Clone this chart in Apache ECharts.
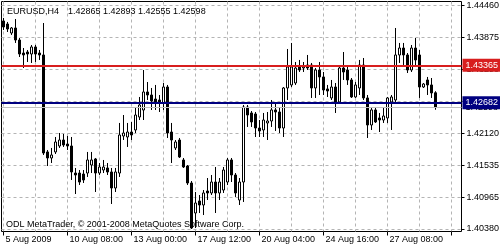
<!DOCTYPE html>
<html><head><meta charset="utf-8">
<script src="https://cdn.jsdelivr.net/npm/echarts@6/dist/echarts.min.js"></script>
<style>html,body{margin:0;padding:0;background:#fff}#c{width:500px;height:250px}</style>
</head><body><div id="c"></div>
<script>
const symbolName = 'EURUSD,H4';
const copyright = 'ODL MetaTrader, \u00a9 2001-2008 MetaQuotes Software Corp.';

const openP = [
1.44174,1.44119,1.43955,1.44046,1.43827,1.43590,1.43608,1.43572,1.43700,1.43590,
1.43554,1.41785,1.41675,1.41785,1.41894,1.42003,1.41930,1.41894,1.41401,1.41401,
1.41383,1.41401,1.41547,1.41657,1.41401,1.41456,1.41493,1.41420,1.41128,1.41401,
1.42076,1.42058,1.42149,1.42186,1.42423,1.42550,1.42879,1.42824,1.42751,1.42733,
1.42678,1.42970,1.42149,1.41858,1.42003,1.41639,1.41529,1.41219,1.40672,1.40891,
1.40818,1.41073,1.41037,1.41237,1.41037,1.41091,1.41237,1.41639,1.41365,1.40909,
1.41237,1.42605,1.42496,1.42478,1.42222,1.42186,1.42314,1.42350,1.42551,1.42514,
1.42222,1.42952,1.43007,1.43043,1.43335,1.43317,1.43371,1.43371,1.42952,1.43280,
1.43153,1.42934,1.42770,1.42970,1.42697,1.43317,1.43280,1.43098,1.42788,1.42952,
1.43371,1.42770,1.42277,1.42551,1.42405,1.42368,1.42405,1.42697,1.42733,1.43554,
1.43681,1.43554,1.43280,1.43681,1.43554,1.42970,1.43098,1.43007,1.42865];
const highP = [
1.44229,1.44156,1.44064,1.44210,1.43864,1.43681,1.43645,1.43736,1.43736,1.43645,
1.44137,1.41821,1.41858,1.42058,1.42131,1.42113,1.42076,1.42058,1.41493,1.41456,
1.41456,1.41785,1.41785,1.41675,1.41584,1.41639,1.41584,1.41493,1.41493,1.42314,
1.42459,1.42314,1.42332,1.42587,1.42788,1.43280,1.43061,1.42952,1.43007,1.42824,
1.43043,1.43007,1.42314,1.42003,1.42040,1.41675,1.41547,1.41255,1.41055,1.41000,
1.41091,1.41310,1.41365,1.41511,1.41310,1.41511,1.41675,1.41675,1.41401,1.41310,
1.42642,1.42642,1.42532,1.42514,1.42368,1.42496,1.42514,1.42733,1.42678,1.42605,
1.42970,1.43663,1.43773,1.43426,1.43463,1.43426,1.43554,1.43408,1.43317,1.43426,
1.43244,1.43007,1.43098,1.43043,1.43335,1.43608,1.43335,1.43134,1.43061,1.43463,
1.43499,1.42824,1.42587,1.42587,1.42496,1.42587,1.42788,1.42824,1.44046,1.43773,
1.43773,1.43590,1.43736,1.43864,1.43645,1.43043,1.43153,1.43134,1.42893];
const lowP = [
1.44010,1.43973,1.43919,1.43773,1.43517,1.43317,1.43426,1.43408,1.43426,1.43463,
1.41730,1.41529,1.41584,1.41748,1.41858,1.41876,1.41821,1.41274,1.41018,1.41183,
1.41219,1.41329,1.41401,1.41055,1.41365,1.41401,1.41365,1.40836,1.41055,1.41329,
1.42003,1.41876,1.42003,1.42131,1.42368,1.42368,1.42733,1.42551,1.42551,1.42514,
1.42551,1.42040,1.41584,1.41821,1.41675,1.41493,1.41183,1.40380,1.40398,1.40672,
1.40635,1.40909,1.41000,1.40672,1.40909,1.41037,1.41183,1.41237,1.40964,1.40818,
1.40873,1.42241,1.42241,1.42058,1.42058,1.42058,1.42003,1.42241,1.42168,1.42131,
1.42058,1.42733,1.42970,1.43007,1.43244,1.43244,1.43280,1.42770,1.42770,1.42824,
1.42824,1.42788,1.42733,1.42496,1.42678,1.43098,1.43007,1.42770,1.42770,1.42824,
1.42733,1.42040,1.42186,1.42314,1.42149,1.42314,1.42314,1.42186,1.42697,1.43408,
1.43371,1.43225,1.43244,1.43371,1.42770,1.42952,1.42824,1.42770,1.42555];
const closeP = [
1.44064,1.44028,1.44046,1.43827,1.43572,1.43554,1.43572,1.43700,1.43572,1.43554,
1.41766,1.41675,1.41730,1.41967,1.42003,1.41912,1.41894,1.41420,1.41365,1.41237,
1.41274,1.41639,1.41639,1.41401,1.41511,1.41511,1.41420,1.41128,1.41420,1.42095,
1.42131,1.42149,1.42095,1.42459,1.42642,1.42879,1.42824,1.42715,1.42697,1.42697,
1.42970,1.42131,1.42003,1.41967,1.41693,1.41511,1.41219,1.40398,1.40854,1.40818,
1.41037,1.41037,1.41237,1.41037,1.41237,1.41456,1.41639,1.41365,1.41037,1.41237,
1.42605,1.42459,1.42332,1.42222,1.42168,1.42368,1.42350,1.42551,1.42514,1.42222,
1.42952,1.43335,1.43335,1.43317,1.43280,1.43335,1.43317,1.42952,1.43280,1.43153,
1.42915,1.42897,1.42970,1.42697,1.43317,1.43244,1.43098,1.42788,1.43007,1.43371,
1.42770,1.42277,1.42551,1.42332,1.42368,1.42441,1.42770,1.42788,1.43554,1.43681,
1.43554,1.43280,1.43681,1.43463,1.42970,1.43025,1.43007,1.42861,1.42598];

const emptyFutureBars = 6;
const yTickLabels = ['1.40380','1.40965','1.41535','1.42120','1.42705','1.43290','1.43875','1.44460'];
const xTickLabels = ['5 Aug 2009','10 Aug 08:00','13 Aug 00:00','17 Aug 12:00','20 Aug 04:00','24 Aug 16:00','27 Aug 08:00'];
const resistanceLevel = 1.43365;
const supportLevel = 1.42682;
const bidLevel = 1.42598;

const FONT_FAMILY = '"Liberation Sans", Arial, sans-serif';
const FS = 9;
const last = closeP.length - 1;
const categories = openP.map((_, i) => String(i));
for (let k = 0; k < emptyFutureBars; k++) categories.push('f' + k);
const candles = openP.map((o, i) => [o, closeP[i], lowP[i], highP[i]]);
const yMin = +yTickLabels[0], yMax = +yTickLabels[yTickLabels.length - 1];
const yStep = (yMax - yMin) / (yTickLabels.length - 1);
const headerValues = [openP, highP, lowP, closeP].map(a => a[last].toFixed(5)).join(' ');

function lvlLabel(bg, fg, txt) {
  return {show: true, position: 'end', distance: 1, formatter: txt, color: fg, backgroundColor: bg,
    padding: [2, 3, 2, 3], fontSize: FS, fontFamily: FONT_FAMILY};
}

const chart = echarts.init(document.getElementById('c'), null, {renderer: 'canvas'});
chart.setOption({
  animation: false,
  backgroundColor: '#fff',
  grid: [
    {left: 1.5, top: 5.3, width: 460, height: 223.7, containLabel: false, outerBoundsMode: 'none'},
    {left: 3.5, top: 1.5, width: 448, height: 230, containLabel: false, outerBoundsMode: 'none'},
    {left: 1.5, top: 1.5, width: 460, height: 230, show: true, borderColor: '#000', borderWidth: 1,
     backgroundColor: 'transparent', containLabel: false, outerBoundsMode: 'none'}
  ],
  xAxis: [
    {type: 'category', gridIndex: 0, data: categories, boundaryGap: true,
     axisLine: {show: false}, axisTick: {show: false}, axisLabel: {show: false}, splitLine: {show: false}},
    {type: 'value', gridIndex: 1, min: 0, max: 112, interval: 8, position: 'top',
     axisLine: {show: false}, axisTick: {show: false}, axisLabel: {show: false},
     splitLine: {show: true, lineStyle: {color: '#b4b4b4', type: [3, 3], width: 1}}},
    {type: 'value', gridIndex: 1, min: 0, max: 112, interval: 16, position: 'bottom',
     axisLine: {show: false}, axisTick: {show: true, length: 4, lineStyle: {color: '#000'}},
     splitLine: {show: false},
     axisLabel: {show: true, align: 'left', margin: 4, color: '#000', fontSize: FS, fontFamily: FONT_FAMILY,
       padding: [0, 0, 0, 2], formatter: v => xTickLabels[Math.round(v / 16)] || ''}}
  ],
  yAxis: [
    {type: 'value', gridIndex: 0, position: 'right', min: yMin, max: yMax, interval: yStep,
     axisLine: {show: false}, axisTick: {show: true, length: 3, lineStyle: {color: '#000'}},
     axisLabel: {show: true, margin: 5, color: '#000', fontSize: FS, fontFamily: FONT_FAMILY,
       formatter: v => yTickLabels[Math.round((v - yMin) / yStep)]},
     splitLine: {show: true, lineStyle: {color: '#b4b4b4', type: [3, 3], width: 1}}},
    {type: 'value', gridIndex: 1, show: false}
  ],
  graphic: [
    {type: 'text', x: 7, y: 12, z: 10, style: {text: symbolName, fill: '#000', font: FS + 'px ' + FONT_FAMILY, verticalAlign: 'middle', align: 'left'}},
    {type: 'text', x: 68, y: 12, z: 10, style: {text: headerValues, fill: '#000', font: FS + 'px ' + FONT_FAMILY, verticalAlign: 'middle', align: 'left'}},
    {type: 'text', x: 6, y: 225, z: 1, style: {text: copyright, fill: '#000', font: FS + 'px ' + FONT_FAMILY, verticalAlign: 'middle', align: 'left'}}
  ],
  series: [{
    type: 'candlestick', xAxisIndex: 0, yAxisIndex: 0, data: candles, barWidth: 2,
    itemStyle: {color: '#fff', color0: '#000', borderColor: '#000', borderColor0: '#000', borderWidth: 1},
    markLine: {
      symbol: ['none', 'none'], silent: true, animation: false, precision: 5,
      data: [
        {yAxis: bidLevel, lineStyle: {color: '#c0c0c0', width: 1, type: 'solid'}, label: lvlLabel('#fff', '#000', bidLevel.toFixed(5))},
        {yAxis: supportLevel, lineStyle: {color: '#000080', width: 2, type: 'solid'}, label: lvlLabel('#000080', '#fff', supportLevel.toFixed(5))},
        {yAxis: resistanceLevel, lineStyle: {color: '#d81e1e', width: 2, type: 'solid'}, label: lvlLabel('#d81e1e', '#fff', resistanceLevel.toFixed(5))}
      ]
    }
  }]
});
</script></body></html>
